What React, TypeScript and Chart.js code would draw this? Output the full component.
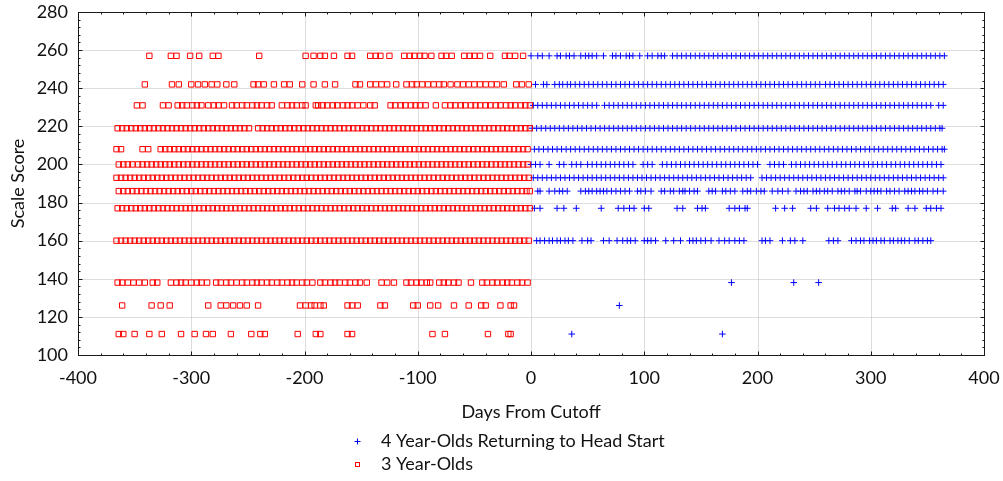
import React, { useEffect, useRef } from 'react';
import { Chart, registerables } from 'chart.js';

Chart.register(...registerables);

// ---------- data ----------
const seriesLabels = ['4 Year-Olds Returning to Head Start', '3 Year-Olds'];
const xAxisTitle = 'Days From Cutoff';
const yAxisTitle = 'Scale Score';

// score levels (rows), top to bottom
const scoreLevels = [257, 242, 231, 219, 208, 200, 193, 186, 177, 160, 138, 126, 111];

// 3 Year-Olds: days from cutoff for each score level
const red257 = [-337,-318,-313,-301,-293,-281,-276,-240,-199,-192,-186,-182,-174,-162,-158,-142,-137,-133,-125,-112,-107,-103,-98,-94,-88,-79,-75,-70,-59,-54,-50,-45,-36,-23,-19,-14,-7];
const red242 = [-341,-317,-311,-300,-294,-288,-282,-277,-269,-262,-245,-241,-236,-227,-218,-213,-202,-192,-182,-173,-155,-151,-142,-137,-132,-127,-119,-110,-105,-101,-96,-91,-86,-81,-77,-71,-65,-60,-55,-50,-45,-40,-35,-30,-24,-13,-8,-2];
const red231 = [-348,-343,-325,-320,-312,-308,-304,-299,-295,-291,-285,-280,-276,-271,-264,-260,-255,-251,-246,-242,-238,-233,-229,-220,-215,-211,-207,-202,-199,-190,-188,-184,-180,-175,-171,-166,-162,-158,-153,-148,-142,-138,-124,-120,-115,-111,-106,-102,-98,-93,-84,-76,-71,-67,-62,-58,-53,-49,-45,-40,-36,-31,-27,-22,-18,-14,-9,-5,-1];
const red219 = [-365,-361,-357,-353,-349,-345,-341,-337,-333,-329,-325,-321,-317,-313,-309,-305,-301,-297,-293,-289,-285,-281,-277,-273,-269,-265,-261,-257,-253,-249,-241,-237,-233,-229,-225,-221,-217,-213,-209,-205,-201,-197,-193,-189,-185,-181,-177,-173,-169,-165,-161,-157,-153,-149,-145,-141,-137,-133,-129,-125,-121,-117,-113,-109,-105,-101,-97,-93,-89,-85,-81,-77,-73,-69,-65,-61,-57,-53,-49,-45,-41,-37,-33,-29,-25,-21,-17,-13,-9,-5,-1];
const red208 = [-366,-362,-343,-338,-327,-323,-319,-315,-311,-307,-303,-299,-295,-291,-287,-283,-279,-275,-271,-267,-263,-259,-255,-251,-247,-243,-239,-235,-231,-227,-223,-219,-215,-211,-207,-203,-199,-195,-191,-187,-183,-179,-175,-171,-167,-163,-159,-155,-151,-147,-143,-139,-135,-131,-127,-123,-119,-115,-111,-107,-103,-99,-95,-91,-87,-83,-79,-75,-71,-67,-63,-59,-55,-51,-47,-43,-39,-35,-31,-27,-23,-19,-15,-11,-7,-3];
const red200 = [-364,-360,-356,-352,-347,-343,-339,-335,-331,-327,-323,-319,-315,-311,-307,-303,-299,-295,-291,-287,-283,-279,-275,-271,-267,-263,-259,-255,-251,-247,-243,-239,-235,-231,-227,-223,-219,-215,-211,-207,-203,-199,-195,-191,-187,-183,-179,-175,-171,-167,-163,-159,-155,-151,-147,-143,-139,-135,-131,-127,-123,-119,-115,-111,-107,-103,-99,-95,-91,-87,-83,-79,-75,-71,-67,-63,-59,-55,-51,-47,-43,-39,-35,-31,-27,-23,-19,-15,-11,-7,-3];
const red193 = [-366,-362,-358,-354,-350,-346,-342,-338,-334,-330,-326,-322,-318,-314,-310,-306,-302,-298,-294,-290,-286,-282,-278,-274,-270,-266,-262,-258,-254,-250,-246,-242,-238,-234,-230,-226,-222,-218,-214,-210,-206,-202,-198,-194,-190,-186,-182,-178,-174,-170,-166,-162,-158,-154,-150,-146,-142,-138,-134,-130,-126,-122,-118,-114,-110,-106,-102,-98,-94,-90,-86,-82,-78,-74,-70,-66,-62,-58,-54,-50,-46,-42,-38,-34,-30,-26,-22,-18,-14,-10,-6,-2];
const red186 = [-364,-360,-356,-352,-348,-344,-340,-336,-332,-328,-324,-320,-316,-312,-308,-304,-300,-296,-292,-288,-284,-280,-276,-272,-268,-264,-260,-256,-252,-248,-244,-240,-236,-232,-228,-224,-220,-216,-212,-208,-204,-200,-196,-192,-188,-184,-180,-176,-172,-168,-164,-160,-156,-152,-148,-144,-140,-136,-132,-128,-124,-120,-116,-112,-108,-104,-100,-96,-92,-88,-84,-80,-76,-72,-68,-64,-60,-56,-52,-48,-44,-40,-36,-32,-28,-24,-20,-16,-12,-8,-4,-1];
const red177 = [-365,-361,-357,-353,-349,-345,-341,-337,-333,-329,-325,-321,-317,-313,-309,-305,-301,-297,-293,-289,-285,-281,-277,-273,-269,-265,-261,-257,-253,-249,-245,-241,-237,-233,-229,-225,-221,-217,-213,-209,-205,-201,-197,-193,-189,-185,-181,-177,-173,-169,-165,-161,-157,-153,-149,-145,-141,-137,-133,-129,-125,-121,-117,-113,-109,-105,-101,-97,-93,-89,-85,-81,-77,-73,-69,-65,-61,-57,-53,-49,-45,-41,-37,-33,-29,-25,-21,-17,-13,-9,-5,-1];
const red160 = [-366,-362,-358,-354,-350,-346,-342,-338,-334,-330,-326,-322,-318,-314,-310,-306,-302,-298,-294,-290,-286,-282,-278,-274,-270,-266,-262,-258,-254,-250,-246,-242,-238,-234,-230,-226,-222,-218,-214,-210,-206,-202,-198,-194,-190,-186,-182,-178,-174,-170,-166,-162,-158,-154,-150,-146,-142,-138,-134,-130,-126,-122,-118,-114,-110,-106,-102,-98,-94,-90,-86,-82,-78,-74,-70,-66,-62,-58,-54,-50,-46,-42,-38,-34,-30,-26,-22,-18,-14,-10,-6,-2];
const red138 = [-365,-361,-356,-351,-346,-341,-334,-330,-318,-313,-309,-305,-300,-295,-291,-286,-278,-274,-269,-265,-260,-255,-251,-246,-242,-238,-233,-229,-224,-220,-215,-211,-207,-202,-198,-193,-186,-182,-177,-173,-169,-164,-160,-155,-151,-145,-132,-127,-121,-110,-106,-101,-97,-92,-89,-81,-77,-73,-68,-64,-53,-43,-39,-34,-30,-25,-21,-17,-12,-8,-3];
const red126 = [-361,-335,-327,-319,-285,-274,-269,-263,-257,-251,-241,-204,-199,-194,-191,-186,-183,-162,-158,-153,-133,-129,-104,-100,-89,-82,-68,-55,-44,-40,-27,-18,-15];
const red111 = [-364,-360,-350,-337,-326,-309,-297,-287,-281,-265,-247,-239,-235,-206,-190,-186,-162,-158,-87,-76,-38,-20,-18];

// 4 Year-Olds Returning to Head Start: days from cutoff for each score level
const blue257 = [0,6,10,16,23,26,31,34,38,44,48,51,54,58,64,72,75,79,84,87,90,96,103,107,112,115,118,125,129,133,137,141,145,149,153,157,161,165,169,173,177,181,185,189,193,197,201,205,209,213,217,221,225,229,233,237,241,245,249,253,257,261,265,269,273,277,281,285,289,293,297,301,305,309,313,317,321,325,329,333,337,341,345,349,353,357,361,365];
const blue242 = [4,11,14,21,25,28,32,35,39,43,47,51,55,59,63,67,71,75,79,83,87,91,95,99,103,107,111,115,119,123,127,131,135,139,143,147,151,155,159,163,167,171,175,179,183,187,191,195,199,203,207,211,215,219,223,227,231,235,239,243,247,251,255,260,264,268,272,276,280,284,288,292,296,300,304,308,312,316,320,324,328,332,336,340,344,348,352,356,360,364];
const blue231 = [2,6,10,14,18,22,26,30,34,38,42,46,50,54,58,65,69,73,77,81,85,89,93,97,101,105,109,113,117,121,125,129,133,137,141,145,149,153,157,161,165,169,173,177,181,185,189,193,197,201,205,209,213,217,221,225,229,233,237,241,245,249,253,257,261,265,269,273,277,281,285,289,293,297,301,305,309,313,317,321,325,329,333,337,341,345,349,353,360,364];
const blue219 = [1,5,9,13,17,21,25,29,33,37,41,45,49,53,57,61,65,69,73,77,81,85,89,93,97,101,105,109,113,117,121,125,129,133,137,141,145,149,153,157,161,165,169,173,177,181,185,189,193,197,201,205,209,213,217,221,225,229,233,237,241,245,249,253,257,261,265,269,273,277,281,285,289,293,297,301,305,309,313,317,321,325,329,333,337,341,345,349,353,357,361,363];
const blue208 = [3,7,11,15,19,23,27,31,35,39,43,47,51,55,59,63,67,71,75,79,83,87,91,95,99,103,107,111,115,119,123,127,131,135,139,143,147,151,155,159,163,167,171,175,179,183,187,191,195,199,203,207,211,215,219,223,227,231,235,239,243,247,251,255,259,263,267,271,275,279,283,287,291,295,299,303,307,311,315,319,323,327,331,335,339,343,347,351,355,359,363,365];
const blue200 = [0,4,8,16,25,29,36,40,44,50,54,58,62,66,70,74,78,82,86,90,99,103,107,116,120,124,128,132,136,140,144,148,152,156,160,164,168,172,176,180,184,188,192,196,200,211,215,219,223,230,234,238,242,246,250,254,258,262,266,270,274,278,282,286,290,294,298,302,306,310,314,318,322,326,330,334,338,342,346,350,354,358,362];
const blue193 = [2,6,10,14,18,22,26,30,34,38,42,46,50,54,58,62,66,70,74,78,82,86,90,94,98,102,106,110,114,118,122,126,130,134,138,142,146,150,154,158,162,166,170,174,178,182,186,190,194,204,208,212,216,220,224,228,232,236,240,244,248,252,256,260,264,268,272,276,280,284,288,292,296,300,304,308,312,316,320,324,328,332,336,340,344,348,352,356,360,364];
const blue186 = [6,8,16,21,25,28,32,44,48,51,54,58,61,64,67,71,75,79,83,87,94,97,101,106,115,118,123,126,131,134,136,140,144,147,157,160,163,169,172,176,180,187,191,194,199,203,206,213,218,222,227,234,238,241,244,249,252,255,259,262,266,271,274,277,281,286,288,291,296,300,303,306,309,314,317,321,325,330,333,336,339,343,346,350,355,359,364];
const blue177 = [3,8,23,29,40,62,77,82,87,91,100,104,129,134,147,151,154,175,180,184,189,191,216,224,231,247,252,262,268,272,277,281,287,296,306,319,322,333,339,349,353,358,362];
const blue160 = [5,8,12,16,19,23,26,30,33,37,45,50,53,64,69,76,81,85,88,92,100,103,106,110,119,126,132,140,143,146,150,154,159,166,171,175,180,184,188,204,207,211,222,229,233,240,263,267,271,283,287,291,294,299,302,305,309,312,317,320,324,327,330,334,339,342,346,350,353];
const blue138 = [177, 232, 254];
const blue126 = [78];
const blue111 = [36, 169];

const redRows = [red257, red242, red231, red219, red208, red200, red193, red186, red177, red160, red138, red126, red111];
const blueRows = [blue257, blue242, blue231, blue219, blue208, blue200, blue193, blue186, blue177, blue160, blue138, blue126, blue111];

const toPoints = (rows: number[][]) =>
  rows.flatMap((days, i) => days.map((d) => ({ x: d, y: scoreLevels[i] })));

// ---------- styling ----------
const FONT = 'Lato';
const FONT_SIZE = 18;
const BLUE = 'rgb(0,0,255)';
const RED = 'rgb(255,0,0)';
const TEXT = '#111111';

const framePlugin = {
  id: 'frameAndGrid',
  beforeDatasetsDraw(chart: any) {
    const { ctx, chartArea: a, scales } = chart;
    const x = scales.x;
    const y = scales.y;
    const L = Math.round(a.left) + 0.5;
    const R = Math.round(a.right) + 0.5;
    const T = Math.round(a.top) + 0.5;
    const B = Math.round(a.bottom) + 0.5;
    ctx.save();
    ctx.lineWidth = 1;
    ctx.strokeStyle = '#bcbcbc';
    ctx.setLineDash([1, 1]);
    x.ticks.forEach((t: any) => {
      if (t.value === x.min || t.value === x.max) return;
      const px = Math.round(x.getPixelForValue(t.value)) + 0.5;
      ctx.beginPath();
      ctx.moveTo(px, T);
      ctx.lineTo(px, B);
      ctx.stroke();
    });
    y.ticks.forEach((t: any) => {
      if (t.value === y.min || t.value === y.max) return;
      const py = Math.round(y.getPixelForValue(t.value)) + 0.5;
      ctx.beginPath();
      ctx.moveTo(L, py);
      ctx.lineTo(R, py);
      ctx.stroke();
    });
    ctx.setLineDash([]);
    ctx.strokeStyle = '#1a1a1a';
    ctx.strokeRect(L, T, R - L, B - T);
    // inner ticks
    ctx.beginPath();
    for (let v = x.min; v <= x.max; v += 20) {
      const major = (v - x.min) % 100 === 0;
      const len = major ? 4 : 2;
      const px = Math.round(x.getPixelForValue(v)) + 0.5;
      ctx.moveTo(px, B);
      ctx.lineTo(px, B - len);
      ctx.moveTo(px, T);
      ctx.lineTo(px, T + len);
    }
    for (let v = y.min; v <= y.max; v += 4) {
      const major = (v - y.min) % 20 === 0;
      const len = major ? 4 : 2;
      const py = Math.round(y.getPixelForValue(v)) + 0.5;
      ctx.moveTo(L, py);
      ctx.lineTo(L + len, py);
      ctx.moveTo(R, py);
      ctx.lineTo(R - len, py);
    }
    ctx.stroke();
    ctx.restore();
  },
};

const legendPlugin = {
  id: 'stackedLegend',
  afterDraw(chart: any) {
    const { ctx } = chart;
    const mx = 357.5;
    const tx = 381;
    const rows = [441, 464];
    ctx.save();
    ctx.lineWidth = 1;
    // blue cross
    ctx.strokeStyle = BLUE;
    ctx.beginPath();
    ctx.moveTo(mx - 3, rows[0] + 0.5);
    ctx.lineTo(mx + 3, rows[0] + 0.5);
    ctx.moveTo(mx, rows[0] - 2.5);
    ctx.lineTo(mx, rows[0] + 3.5);
    ctx.stroke();
    // red square
    ctx.strokeStyle = RED;
    ctx.strokeRect(mx - 2, rows[1] - 1.5, 4, 4);
    ctx.fillStyle = TEXT;
    ctx.font = `${FONT_SIZE}px ${FONT}`;
    ctx.textBaseline = 'middle';
    ctx.textAlign = 'left';
    ctx.fillText(seriesLabels[0], tx, rows[0]);
    ctx.fillText(seriesLabels[1], tx, rows[1]);
    ctx.restore();
  },
};

export default function App() {
  const ref = useRef<HTMLCanvasElement | null>(null);

  useEffect(() => {
    let chart: Chart | null = null;
    let cancelled = false;
    const build = () => {
      if (cancelled || !ref.current) return;
      chart = new Chart(ref.current, {
        type: 'scatter',
        data: {
          datasets: [
            {
              label: seriesLabels[0],
              data: toPoints(blueRows),
              pointStyle: 'cross',
              pointRadius: 3.3,
              borderColor: BLUE,
              backgroundColor: BLUE,
              borderWidth: 1,
              order: 1,
            },
            {
              label: seriesLabels[1],
              data: toPoints(redRows),
              pointStyle: 'rect',
              pointRadius: 3.8,
              borderColor: RED,
              backgroundColor: 'rgba(0,0,0,0)',
              borderWidth: 1,
              order: 0,
            },
          ],
        },
        options: {
          animation: false,
          responsive: false,
          events: [],
          layout: { padding: { left: 0, right: 19, top: 12, bottom: 0 } },
          plugins: {
            legend: { display: false },
            tooltip: { enabled: false },
          },
          scales: {
            x: {
              type: 'linear',
              min: -400,
              max: 400,
              grid: { display: false, drawTicks: false },
              border: { display: false },
              ticks: {
                stepSize: 100,
                padding: 12,
                color: TEXT,
                font: { family: FONT, size: FONT_SIZE },
                maxRotation: 0,
              },
              title: {
                display: true,
                text: xAxisTitle,
                color: TEXT,
                font: { family: FONT, size: FONT_SIZE },
                padding: { top: 0, bottom: 58 },
              },
              afterFit: (s: any) => {
                s.height = 126;
                s.paddingLeft = 0;
                s.paddingRight = 0;
              },
            },
            y: {
              type: 'linear',
              min: 100,
              max: 280,
              grid: { display: false, drawTicks: false },
              border: { display: false },
              ticks: {
                stepSize: 20,
                padding: 10,
                color: TEXT,
                font: { family: FONT, size: FONT_SIZE },
              },
              title: {
                display: true,
                text: yAxisTitle,
                color: TEXT,
                font: { family: FONT, size: FONT_SIZE },
                padding: { top: 7, bottom: 0 },
              },
              afterFit: (s: any) => {
                s.width = 78;
                s.paddingTop = 0;
                s.paddingBottom = 0;
              },
            },
          },
        },
        plugins: [framePlugin, legendPlugin],
      });
    };
    const fontsReady = (document as any).fonts?.load
      ? (document as any).fonts.load(`${FONT_SIZE}px ${FONT}`).catch(() => null)
      : Promise.resolve();
    fontsReady.then(build);
    return () => {
      cancelled = true;
      if (chart) chart.destroy();
    };
  }, []);

  return (
    <div style={{ position: 'fixed', left: 0, top: 0, width: 1003, height: 481, background: '#fff' }}>
      <canvas ref={ref} width={1003} height={481} style={{ display: 'block' }} />
    </div>
  );
}
